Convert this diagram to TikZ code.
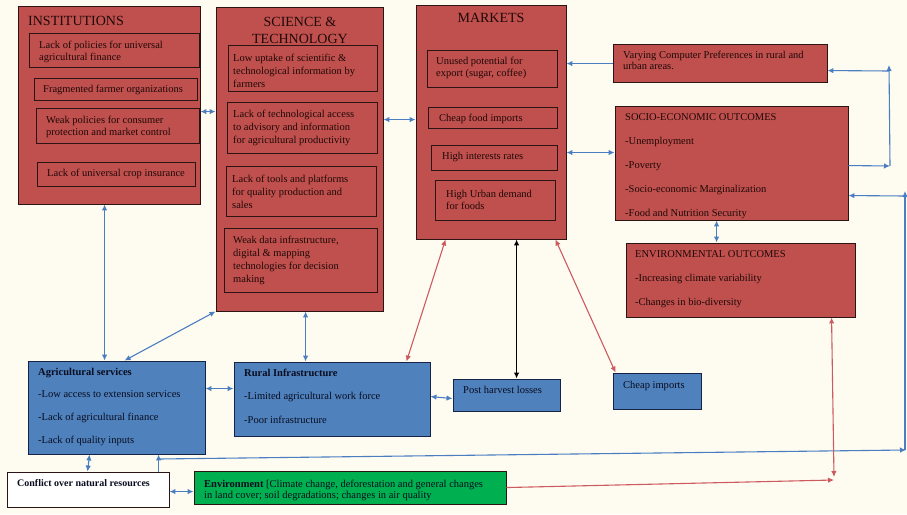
\documentclass[tikz,border=0pt]{standalone}
\usepackage{fontspec}
\setmainfont{Liberation Serif}
\usetikzlibrary{arrows.meta,fit}
\definecolor{bgc}{RGB}{254,252,241}
\definecolor{redf}{RGB}{192,80,77}
\definecolor{bluef}{RGB}{79,129,189}
\definecolor{greenf}{RGB}{0,176,80}
\definecolor{edgec}{RGB}{45,20,20}
\definecolor{bedge}{RGB}{20,35,70}
\definecolor{lineblue}{RGB}{74,126,192}
\definecolor{linered}{RGB}{205,90,95}
\definecolor{ink}{RGB}{30,8,8}
\definecolor{binks}{RGB}{8,12,30}
\tikzset{
  redbox/.style={draw=edgec, fill=redf, line width=0.9pt, inner sep=0pt},
  inbox/.style={draw=edgec, line width=0.9pt, inner sep=0pt},
  bluebox/.style={draw=bedge, fill=bluef, line width=0.9pt, inner sep=0pt},
  greenbox/.style={draw=edgec, fill=greenf, line width=0.9pt, inner sep=0pt},
  whitebox/.style={draw=edgec, fill=white, line width=0.9pt, inner sep=0pt},
  txt/.style={inner sep=0pt, align=left, text=ink, font=\fontsize{10.5}{13.2}\selectfont},
  btxt/.style={inner sep=0pt, align=left, text=binks, font=\fontsize{10.5}{13.2}\selectfont},
  ttl/.style={inner sep=0pt, align=center, text=ink, font=\fontsize{14}{17}\selectfont},
  tip/.tip={Latex[length=6pt,width=5.5pt]},
  barr/.style={draw=lineblue, line width=1.1pt, tip-tip},
  bto/.style={draw=lineblue, line width=1.1pt, -tip},
  rarr/.style={draw=linered, line width=1.1pt, tip-tip},
  rto/.style={draw=linered, line width=1.1pt, -tip},
  karr/.style={draw=black, line width=1.1pt, tip-tip}
}
\begin{document}
\begin{tikzpicture}[x=1pt,y=-1pt]
\fill[bgc] (0,0) rectangle (907,514);
\useasboundingbox (0,0) rectangle (907,514);

% ---------- boxes ----------
\node[redbox, fit={(18,6) (200,204)}] (inst) {};
\node[inbox, fit={(29,33) (199,67)}] (inst1) {};
\node[inbox, fit={(34,78) (197,100)}] (inst2) {};
\node[inbox, fit={(36,108) (199,143)}] (inst3) {};
\node[inbox, fit={(37,162) (195,186)}] (inst4) {};

\node[redbox, fit={(216,7) (383,311)}] (st) {};
\node[inbox, fit={(228,45) (377,91)}] (st1) {};
\node[inbox, fit={(227,102) (377,153)}] (st2) {};
\node[inbox, fit={(226,166) (376,216)}] (st3) {};
\node[inbox, fit={(224,228) (377,292)}] (st4) {};

\node[redbox, fit={(416,5) (566,239)}] (mk) {};
\node[inbox, fit={(427,50) (557,87)}] (mk1) {};
\node[inbox, fit={(428,107) (557,128)}] (mk2) {};
\node[inbox, fit={(431,145) (557,170)}] (mk3) {};
\node[inbox, fit={(435,180) (555,220)}] (mk4) {};

\node[redbox, fit={(613,44) (827,82)}] (vary) {};
\node[redbox, fit={(615,106) (848,220)}] (socio) {};
\node[redbox, fit={(626,243) (855,317)}] (envout) {};

\node[bluebox, fit={(613,373) (701,409)}] (cheap) {};
\node[bluebox, fit={(28,361) (205,454)}] (agri) {};
\node[bluebox, fit={(234,362) (430,436)}] (rural) {};
\node[bluebox, fit={(453,379) (560,411)}] (post) {};
\node[whitebox, fit={(7,472) (169,507)}] (conf) {};
\node[greenbox, fit={(194,471) (506,504)}] (env) {};

% ---------- texts (anchor = baseline of last line) ----------
\node[ttl, anchor=base west] (inst-t) at (28,25) {INSTITUTIONS};
\node[txt, anchor=base west, font=\fontsize{10.5}{12.5}\selectfont] (inst1-t) at (39,60.5) {Lack of policies for universal\\agricultural finance};
\node[txt, anchor=base west] (inst2-t) at (43,92) {Fragmented farmer organizations};
\node[txt, anchor=base west, font=\fontsize{10.5}{12.5}\selectfont] (inst3-t) at (46,135.5) {Weak policies for consumer\\protection and market control};
\node[txt, anchor=base west] (inst4-t) at (47,176) {Lack of universal crop insurance};

\node[ttl, anchor=base] (st-t) at (300,43) {SCIENCE \&\\TECHNOLOGY};
\node[txt, anchor=base west] (st1-t) at (233,87.4) {Low uptake of scientific \&\\technological information by\\farmers};
\node[txt, anchor=base west] (st2-t) at (233,143.4) {Lack of technological access\\to advisory and information\\for agricultural productivity};
\node[txt, anchor=base west] (st3-t) at (232,208.4) {Lack of tools and platforms\\for quality production and\\sales};
\node[txt, anchor=base west] (st4-t) at (233,282.6) {Weak data infrastructure,\\digital \& mapping\\technologies for decision\\making};

\node[ttl, anchor=base] (mk-t) at (491,23) {MARKETS};
\node[txt, anchor=base west, font=\fontsize{10.5}{12}\selectfont] (mk1-t) at (436,76) {Unused potential for\\export (sugar, coffee)};
\node[txt, anchor=base west] (mk2-t) at (439,121) {Cheap food imports};
\node[txt, anchor=base west] (mk3-t) at (442,159) {High interests rates};
\node[txt, anchor=base west, font=\fontsize{10.5}{12}\selectfont] (mk4-t) at (446,209) {High Urban demand\\for foods};

\node[txt, anchor=base west, font=\fontsize{10.5}{11.5}\selectfont] (vary-t) at (623,69.5) {Varying Computer Preferences in rural and\\urban areas.};
\node[txt, anchor=base west, font=\fontsize{10.5}{24}\selectfont] (socio-t) at (625,216) {SOCIO-ECONOMIC OUTCOMES\\-Unemployment\\-Poverty\\-Socio-economic Marginalization\\-Food and Nutrition Security};
\node[txt, anchor=base west, font=\fontsize{10.5}{24}\selectfont] (envout-t) at (635,305) {ENVIRONMENTAL OUTCOMES\\-Increasing climate variability\\-Changes in bio-diversity};

\node[btxt, anchor=base west] (cheap-t) at (623,388) {Cheap imports};
\node[btxt, anchor=base west, font=\fontsize{10.5}{22.8}\selectfont] (agri-t) at (38,443.4) {\textbf{Agricultural services}\\-Low access to extension services\\-Lack of agricultural finance\\-Lack of quality inputs};
\node[btxt, anchor=base west, font=\fontsize{10.5}{23.5}\selectfont] (rural-t) at (244,423) {\textbf{Rural Infrastructure}\\-Limited agricultural work force\\-Poor infrastructure};
\node[btxt, anchor=base west] (post-t) at (463,393) {Post harvest losses};
\node[btxt, anchor=base west, font=\fontsize{10}{12}\selectfont] (conf-t) at (17,486) {\textbf{Conflict over natural resources}};
\node[btxt, anchor=base west, font=\fontsize{10.5}{11}\selectfont] (env-t) at (204,498) {\textbf{Environment} [Climate change, deforestation and general changes\\in land cover; soil degradations; changes in air quality};

% ---------- helper coordinates ----------
\coordinate (r1) at (890,166);
\coordinate (r2t) at (889,65);
\coordinate (r2) at (889,71);
\coordinate (rb) at (905,450);
\coordinate (rtt) at (905,191);
\coordinate (rt) at (905,196);
\coordinate (lb) at (159,459);
\coordinate (rbe) at (906,450);
\coordinate (e1) at (834,480);
\coordinate (e2) at (834,477);

% ---------- connectors ----------
\draw[barr] ([xshift=87pt]inst.south west) -- ([xshift=77pt]agri.north west);
\draw[barr] ([yshift=-106pt]inst.north east) -- ([yshift=-105pt]st.north west);
\draw[barr] ([yshift=-113pt]st.north east) -- ([yshift=-115pt]mk.north west);
\draw[barr] (st.south west) -- ([xshift=97pt]agri.north west);
\draw[barr] ([xshift=90pt]st.south west) -- ([xshift=72pt]rural.north west);
\draw[barr] ([yshift=-28pt]agri.north east) -- ([yshift=-27pt]rural.north west);
\draw[rarr] ([xshift=30pt]mk.south west) -- ([xshift=-24pt]rural.north east);
\draw[karr] ([xshift=101pt]mk.south west) -- ([xshift=64pt]post.north west);
\draw[rarr] ([xshift=-11pt]mk.south east) -- ([xshift=3pt]cheap.north west);
\draw[barr] ([yshift=-148pt]mk.north east) -- ([yshift=-47pt]socio.north west);
\draw[bto] ([yshift=-20pt]vary.north west) -- ([yshift=-59pt]mk.north east);
\draw[barr] ([xshift=102pt]socio.south west) -- ([xshift=91pt]envout.north west);
\draw[barr] ([yshift=-35pt]rural.north east) -- ([yshift=-20pt]post.north west);
\draw[bto] ([yshift=-60pt]socio.north east) -- (r1);
\draw[bto] (r1) -- (r2t);
\draw[bto] (r2) -- ([yshift=-27pt]vary.north east);
\draw[bto] (rb) -- (rtt);
\draw[bto] (rt) -- ([yshift=-90pt]socio.north east);
\draw[bto] (lb) -- (rbe);
\draw[bto] ([xshift=152pt]conf.north west) -- ([xshift=131pt]agri.south west);
\draw[barr] ([xshift=62pt]agri.south west) -- ([xshift=81pt]conf.north west);
\draw[barr] ([yshift=-20pt]conf.north east) -- ([yshift=-21pt]env.north west);
\draw[rto] ([yshift=-17pt]env.north east) -- (e1);
\draw[rarr] ([xshift=206pt]envout.south west) -- (e2);
\end{tikzpicture}
\end{document}
